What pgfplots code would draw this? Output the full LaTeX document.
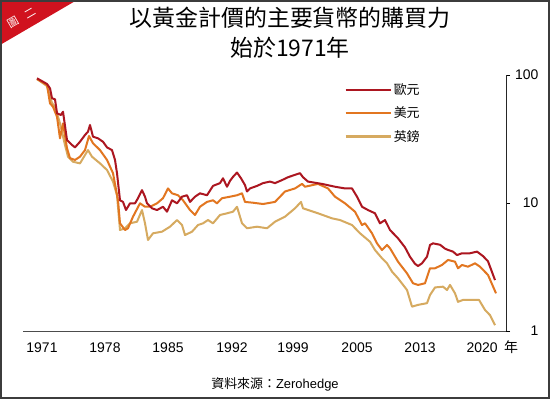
\documentclass[border=0pt]{standalone}
\usepackage{fontspec}
\setmainfont{Liberation Sans}
\newfontfamily\cjk{Noto Sans CJK TC}
\usepackage{pgfplots}
\pgfplotsset{compat=1.18}
\definecolor{eur}{RGB}{172,22,32}
\definecolor{usd}{RGB}{226,118,32}
\definecolor{gbp}{RGB}{214,170,96}
\definecolor{tagred}{RGB}{208,18,30}
\definecolor{framegray}{RGB}{60,60,60}
\begin{document}
\begin{tikzpicture}[x=1bp,y=1bp]
\useasboundingbox (0,0) rectangle (550,399);
\fill[white] (0,0) rectangle (550,399);
\fill[tagred] (0,399) -- (77,399) -- (0,354) -- cycle;
\node[rotate=30, text=white, font=\cjk\fontsize{11}{11}\selectfont, inner sep=0pt] at (13,377) {圖};
\node[rotate=30, text=white, font=\cjk\fontsize{11}{11}\selectfont, inner sep=0pt] at (30,386) {二};
\node[font=\cjk\fontsize{23}{23}\selectfont, inner sep=0pt] at (290,381) {以黃金計價的主要貨幣的購買力};
\node[font=\cjk\fontsize{23}{23}\selectfont, inner sep=0pt] at (290,351) {始於1971年};
\node[font=\cjk\fontsize{14}{14}\selectfont, inner sep=0pt] at (511,52) {年};
\node[font=\fontsize{13}{13}\selectfont, inner sep=0pt] at (275,15) {{\cjk 資料來源：}Zerohedge};
\begin{axis}[
  at={(23bp,68bp)}, anchor=south west,
  scale only axis, width=483bp, height=256bp,
  xmin=-19, xmax=464,
  ymode=log, ymin=1, ymax=100,
  axis x line*=bottom, axis y line*=right,
  axis line style={-},
  x axis line style={line width=1bp, color=black!70},
  y axis line style={line width=0.7bp, color=black!85},
  xtick={0,63,126,190,251,315,378,440},
  xticklabels={1971,1978,1985,1992,1999,2005,2013,2020},
  ytick={1,10,100}, yticklabels={1,10,100},
  yminorticks=false,
  tick align=outside,
  major tick length=4bp,
  xtick style={draw=none},
  ytick style={black, line width=0.7bp},
  ticklabel style={font=\fontsize{14}{14}\selectfont},
  xticklabel style={yshift=-4bp},
  yticklabel style={anchor=east, xshift=32bp},
  legend image code/.code={\draw[line width=2.4bp] (0bp,0bp) -- (45bp,0bp);},
  legend style={draw=none, fill=none, at={(0.665,0.975)}, anchor=north west,
    font=\cjk\fontsize{13}{13}\selectfont, row sep=7bp, inner sep=0pt,
    cells={anchor=west}},
  reverse legend,
  every axis plot/.append style={line width=2bp, line join=round, no markers},
  clip=false,
]
\addplot[gbp] coordinates {(-5,93)(5,82.0)(10,60.4)(13,56.5)(18,41.9)(23,28.4)(26,23.0)(31,21.0)(38,20.4)(43,23.7)(46,25.9)(50,23.0)(58,20.4)(65,18.1)(71,14.7)(75,11.5)(78,6.15)(83,6.35)(88,6.94)(95,7.14)(100,8.81)(103,6.94)(106,5.14)(111,5.80)(120,5.97)(128,6.53)(135,7.36)(140,6.73)(143,5.62)(150,5.97)(156,6.73)(161,6.94)(166,7.36)(171,6.94)(178,8.06)(185,8.31)(191,8.55)(195,9.35)(200,6.94)(205,6.35)(215,6.53)(225,6.35)(233,7.14)(243,7.82)(253,9.09)(259,10.2)(261,9.09)(276,8.31)(290,7.59)(298,7.36)(310,6.73)(318,5.80)(328,4.98)(333,4.29)(340,3.70)(345,3.38)(350,2.91)(356,2.58)(365,2.09)(370,1.55)(376,1.60)(385,1.65)(388,1.91)(393,2.19)(401,2.22)(405,2.09)(408,2.29)(413,1.97)(416,1.69)(421,1.75)(430,1.75)(437,1.75)(443,1.46)(448,1.33)(453,1.11)};
\addlegendentry{英鎊}
\addplot[usd] coordinates {(-5,93)(5,83.5)(8,60.1)(11,56.5)(15,47.2)(18,32.0)(21,41.9)(25,26.8)(28,22.4)(33,21.7)(38,23.0)(43,25.9)(47,33.4)(51,29.3)(58,25.9)(65,21.7)(71,17.1)(76,10.5)(78,6.94)(83,6.15)(86,6.35)(91,7.82)(98,9.94)(103,9.35)(108,9.35)(115,9.94)(121,10.9)(126,13.0)(130,11.9)(136,11.5)(141,10.5)(148,8.81)(153,8.06)(158,9.35)(165,10.2)(171,10.5)(175,9.94)(180,10.9)(188,11.2)(195,11.5)(200,11.9)(203,10.2)(211,10.05)(221,9.82)(233,10.2)(243,12.3)(253,13.0)(260,14.1)(263,13.4)(276,14.1)(286,13.0)(293,11.2)(303,9.94)(313,8.55)(320,6.73)(323,6.94)(330,5.80)(335,4.84)(340,4.29)(345,4.70)(348,4.43)(356,3.48)(365,2.82)(371,2.36)(376,2.29)(383,2.36)(388,3.09)(393,3.09)(400,3.28)(406,3.59)(413,3.48)(416,3.09)(420,3.28)(426,3.18)(433,3.38)(438,3.18)(446,2.74)(454,1.97)};
\addlegendentry{美元}
\addplot[eur] coordinates {(-5,94.2)(5,85.1)(8,78.7)(10,65.8)(13,64.6)(15,50.2)(19,48.7)(21,51.7)(25,31.1)(30,28.4)(33,27.2)(38,30.1)(43,34.0)(46,36.1)(48,40.7)(51,33.0)(56,32.0)(61,30.1)(65,27.2)(70,25.9)(73,21.7)(75,17.1)(78,10.5)(81,10.2)(84,8.81)(88,9.94)(93,9.94)(96,10.9)(100,12.6)(103,11.2)(105,9.94)(110,9.09)(115,8.81)(121,9.35)(125,8.55)(130,10.5)(135,9.94)(140,11.2)(145,11.5)(148,10.2)(153,11.2)(158,11.9)(165,11.5)(171,13.6)(178,14.3)(181,15.6)(185,13.4)(188,14.9)(191,16.0)(195,17.3)(199,15.6)(203,13.8)(205,12.3)(208,13.0)(215,13.6)(221,14.3)(228,14.7)(233,14.3)(240,15.1)(246,15.9)(253,16.6)(258,17.1)(261,15.9)(266,14.7)(280,14.1)(293,13.4)(303,13.0)(310,13.0)(315,11.2)(320,9.35)(326,8.81)(333,8.31)(338,6.94)(343,7.36)(348,6.15)(356,5.30)(363,4.50)(368,3.80)(373,3.35)(376,3.22)(380,3.38)(385,3.81)(388,4.70)(391,4.84)(398,4.72)(403,4.40)(406,4.30)(411,4.17)(415,3.92)(420,4.05)(428,4.05)(435,4.17)(441,3.85)(446,3.50)(453,2.50)};
\addlegendentry{歐元}
\end{axis}
\draw[framegray, line width=2bp] (1,1) rectangle (549,398);
\end{tikzpicture}
\end{document}
